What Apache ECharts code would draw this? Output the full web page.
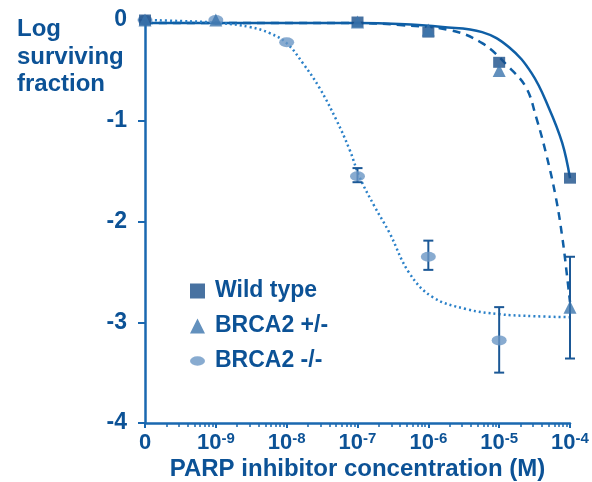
<!DOCTYPE html>
<html>
<head>
<meta charset="utf-8">
<script src="https://cdn.jsdelivr.net/npm/echarts@6/dist/echarts.min.js"></script>
<style>html,body{margin:0;padding:0;background:#fff;}#c{width:592px;height:482px;}</style>
</head>
<body>
<div id="c"></div>
<script>
// ---- data (x = log10 of concentration; -10 stands for the "0" dose) ----
const doseLog = [-10, -9, -8, -7, -6, -5, -4];
const wildType = [0, 0.01, 0.04, -0.02, -0.12, -0.42, -1.57];
const brca2Het = [0, 0, 0.02, -0.02, -0.1, -0.5, -2.85];
const brca2HomDose = [-10, -9, -8, -7, -6, -5];
const brca2Hom = [0, 0, -0.22, -1.55, -2.35, -3.18];

// error bars: [doseLog, low, high]
const homErrors = [[-7, -1.61, -1.47], [-6, -2.48, -2.19], [-5, -3.5, -2.85]];
const hetErrors = [[-4, -3.36, -2.35]];

// fitted curves
const wildFitX = [-10, -8, -7, -6.41, -5.8, -5.24, -4.86, -4.54, -4.3, -4.11, -4.0];
const wildFitY = [-0.03, -0.03, -0.03, -0.04, -0.07, -0.12, -0.27, -0.53, -0.87, -1.22, -1.57];
const hetFitX = [-10, -7, -6.4, -5.7, -5.24, -4.86, -4.62, -4.48, -4.34, -4.2, -4.11, -4.04, -4.0];
const hetFitY = [-0.03, -0.03, -0.05, -0.1, -0.23, -0.47, -0.67, -0.96, -1.32, -1.76, -2.15, -2.55, -2.8];
const homFitX = [-10, -9.5, -8.94, -8.52, -8.24, -8, -7.77, -7.54, -7.3, -7.11, -6.97, -6.76, -6.55, -6.27, -5.94, -5.46, -5, -4.5, -4];
const homFitY = [0, -0.01, -0.03, -0.07, -0.13, -0.23, -0.43, -0.67, -0.99, -1.29, -1.56, -1.85, -2.11, -2.51, -2.75, -2.87, -2.92, -2.94, -2.95];

// axis ticks
const decades = [-10, -9, -8, -7, -6, -5];
const minorFactors = [2, 3, 4, 5, 6, 7, 8, 9];
const yTicks = [0, -1, -2, -3, -4];
const seriesNames = ['Wild type', 'BRCA2 +/-', 'BRCA2 -/-'];

const FONT = 'Liberation Sans, Arial, sans-serif';
const TXT = '#0c5296';
const AX = '#1a68b0';
const C_WT = '#1a4f8a', C_HET = '#3b74ad', C_HOM = '#6a96c4';
const ELLIPSE = 'path://M0,5 A8,5 0 1,0 16,5 A8,5 0 1,0 0,5 Z';

const zip = (a, b) => a.map((v, i) => [v, b[i]]);
const minorTicks = [];
decades.forEach(d => minorFactors.forEach(k => minorTicks.push(d + Math.log10(k))));

function errRender(color) {
  return function (params, api) {
    const x = api.value(0), lo = api.value(1), hi = api.value(2);
    const p1 = api.coord([x, hi]), p2 = api.coord([x, lo]);
    const w = 5;
    const st = { stroke: color, lineWidth: 2 };
    return {
      type: 'group', children: [
        { type: 'line', shape: { x1: p1[0], y1: p1[1], x2: p2[0], y2: p2[1] }, style: st },
        { type: 'line', shape: { x1: p1[0] - w, y1: p1[1], x2: p1[0] + w, y2: p1[1] }, style: st },
        { type: 'line', shape: { x1: p2[0] - w, y1: p2[1], x2: p2[0] + w, y2: p2[1] }, style: st }
      ]
    };
  };
}

const chart = echarts.init(document.getElementById('c'), null, { renderer: 'canvas' });
chart.setOption({
  animation: false,
  backgroundColor: '#fff',
  title: {
    text: 'Log\nsurviving\nfraction', left: 17, top: 16, padding: 0,
    textStyle: { fontFamily: FONT, fontSize: 24, fontWeight: 'bold', color: TXT, lineHeight: 27.5 }
  },
  legend: {
    orient: 'vertical', left: 190, top: 279, padding: 0, itemGap: 11,
    itemWidth: 15, itemHeight: 15,
    data: [
      { name: seriesNames[0], icon: 'rect' },
      { name: seriesNames[1], icon: 'triangle' },
      { name: seriesNames[2], icon: ELLIPSE }
    ],
    textStyle: { fontFamily: FONT, fontSize: 23, fontWeight: 'bold', color: TXT, lineHeight: 24, padding: [0, 0, 0, 5] }
  },
  grid: { left: 145, right: 22, top: 20, bottom: 59, outerBoundsMode: 'none', containLabel: false },
  xAxis: [{
    type: 'value', min: -10, max: -4, interval: 1,
    name: 'PARP inhibitor concentration (M)', nameLocation: 'middle', nameGap: 34, nameMoveOverlap: false,
    nameTextStyle: { fontFamily: FONT, fontSize: 24, fontWeight: 'bold', color: TXT },
    splitLine: { show: false },
    axisLine: { onZero: false, lineStyle: { color: AX, width: 2.5 } },
    axisTick: { length: 5, lineStyle: { color: AX, width: 2 } },
    axisLabel: {
      margin: 8,
      formatter: v => v === -10 ? '{b|0}' : '{b|10}{s|' + v + '}',
      rich: {
        b: { fontFamily: FONT, fontSize: 22, fontWeight: 'bold', color: TXT, lineHeight: 24 },
        s: { fontFamily: FONT, fontSize: 15, fontWeight: 'bold', color: TXT, lineHeight: 14, verticalAlign: 'top' }
      }
    }
  }, {
    type: 'value', min: -10, max: -4, position: 'bottom',
    splitLine: { show: false }, axisLine: { show: false, onZero: false }, axisLabel: { show: false },
    axisTick: { show: true, length: 4, customValues: minorTicks, lineStyle: { color: AX, width: 1.5 } }
  }],
  yAxis: {
    type: 'value', min: -4, max: 0, interval: 1,
    splitLine: { show: false },
    axisLine: { show: true, onZero: false, lineStyle: { color: AX, width: 2.5 } },
    axisTick: { show: true, length: 7, lineStyle: { color: AX, width: 2 } },
    axisLabel: { margin: 18, fontFamily: FONT, fontSize: 23, fontWeight: 'bold', color: TXT,
      formatter: v => yTicks.indexOf(v) >= 0 ? String(v) : '' }
  },
  series: [
    { name: 'fitWT', type: 'line', data: zip(wildFitX, wildFitY), showSymbol: false, smooth: 0.4,
      lineStyle: { color: '#0f5fa6', width: 2.5 }, z: 2 },
    { name: 'fitHet', type: 'line', data: zip(hetFitX, hetFitY), showSymbol: false, smooth: 0.4,
      lineStyle: { color: '#0f5fa6', width: 2.5, type: [8, 6] }, z: 2 },
    { name: 'fitHom', type: 'line', data: zip(homFitX, homFitY), showSymbol: false, smooth: 0.4,
      lineStyle: { color: '#2a80c8', width: 2.5, type: [2, 3] }, z: 2 },
    { name: 'errHom', type: 'custom', renderItem: errRender('#1b5896'), data: homErrors, z: 3 },
    { name: 'errHet', type: 'custom', renderItem: errRender('#1b5896'), data: hetErrors, z: 3 },
    { name: seriesNames[0], type: 'scatter', data: zip(doseLog, wildType), symbol: 'rect', symbolSize: [12, 11],
      itemStyle: { color: C_WT }, z: 5 },
    { name: seriesNames[1], type: 'scatter', data: zip(doseLog, brca2Het), symbol: 'triangle', symbolSize: 13,
      itemStyle: { color: C_HET }, z: 5 },
    { name: seriesNames[2], type: 'scatter', data: zip(brca2HomDose, brca2Hom), symbol: ELLIPSE, symbolSize: [15, 10],
      itemStyle: { color: C_HOM }, z: 4 }
  ]
});
</script>
</body>
</html>
